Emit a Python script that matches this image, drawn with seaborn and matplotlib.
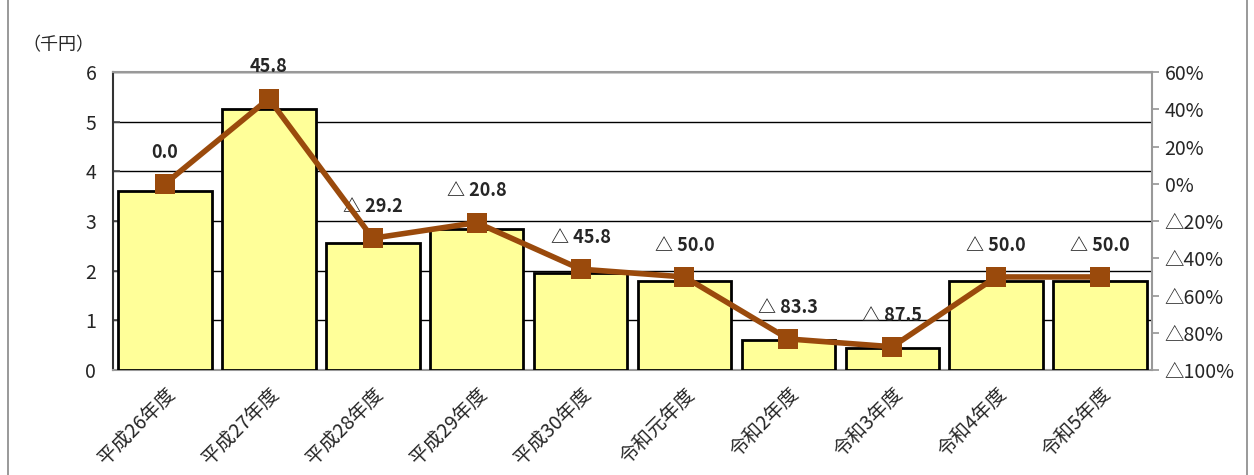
import pandas as pd
import matplotlib
matplotlib.use('Agg')
import matplotlib.pyplot as plt
import seaborn as sns

#chart values
years = ['平成26年度', '平成27年度', '平成28年度', '平成29年度', '平成30年度',
         '令和元年度', '令和2年度', '令和3年度', '令和4年度', '令和5年度']
amount = [3.6, 5.25, 2.55, 2.85, 1.95, 1.8, 0.6, 0.45, 1.8, 1.8]
change = [0.0, 45.8, -29.2, -20.8, -45.8, -50.0, -83.3, -87.5, -50.0, -50.0]
left_ticks = [0, 1, 2, 3, 4, 5, 6]
right_ticks = [-100, -80, -60, -40, -20, 0, 20, 40, 60]

sns.set_theme(style='white')
plt.rcParams['font.family'] = ['Noto Sans CJK JP', 'DejaVu Sans']

def tri(v, fmt):
    #negative values are written with a triangle in Japanese reports
    return ('△' + fmt.format(abs(v))) if v < 0 else fmt.format(v)

data = pd.DataFrame({'year': years, 'amount': amount, 'change': change})

fig = plt.figure(figsize=(12.54, 4.75), dpi=100)
ax = fig.add_axes([0.0901, 0.221, 0.8286, 0.627])

#bars for the amount
sns.barplot(data=data, x='year', y='amount', color='#FFFF99', width=0.9,
            edgecolor='black', linewidth=2, saturation=1, ax=ax, zorder=3)
ax.set_ylim(0, 6)
ax.set_xlim(-0.5, len(years) - 0.5)
ax.set_yticks(left_ticks)
ax.yaxis.grid(True, color='black', linewidth=1)
ax.set_axisbelow(True)
ax.set_xlabel('')
ax.set_ylabel('')
ax.tick_params(axis='y', labelsize=14, length=5, direction='in', color='#555555', pad=12)
ax.tick_params(axis='x', labelsize=14, length=0, pad=10)
plt.setp(ax.get_xticklabels(), rotation=45, ha='right', rotation_mode='anchor')
for s in ['top', 'right']:
    ax.spines[s].set_color('#999999')
ax.spines['left'].set_color('#333333')
ax.spines['bottom'].set_color('#999999')
for s in ax.spines.values():
    s.set_linewidth(1.5)

#line for the rate of change on the right axis
ax2 = ax.twinx()
sns.lineplot(data=data, x='year', y='change', sort=False, color='#9A4A0C', linewidth=4,
             marker='s', markersize=15, markeredgewidth=0, ax=ax2, zorder=5)
ax2.set_ylim(-100, 60)
ax2.set_yticks(right_ticks)
ax2.set_yticklabels([tri(v, '{:.0f}%') for v in right_ticks])
ax2.tick_params(axis='y', labelsize=14, length=5, direction='out', color='#999999', pad=4)
ax2.set_ylabel('')
ax2.set_xlabel('')
for s in ax2.spines.values():
    s.set_visible(False)

#labels above the points
for i, v in enumerate(change):
    lab = ('△ ' + '{:.1f}'.format(abs(v))) if v < 0 else '{:.1f}'.format(v)
    ax2.annotate(lab, (i, v), xytext=(0, 16), textcoords='offset points',
                 ha='center', va='bottom', fontsize=13, fontweight='bold')

fig.text(22 / 1254, 1 - 45 / 475, '（千円）', fontsize=13, va='center')

#outer frame of the figure
fig.add_artist(plt.Line2D([8 / 1254, 8 / 1254], [0, 1], color='#888888', linewidth=1.2))
fig.add_artist(plt.Line2D([1247 / 1254, 1247 / 1254], [0, 1], color='#888888', linewidth=1.2))

fig.savefig('out.png', dpi=100)
